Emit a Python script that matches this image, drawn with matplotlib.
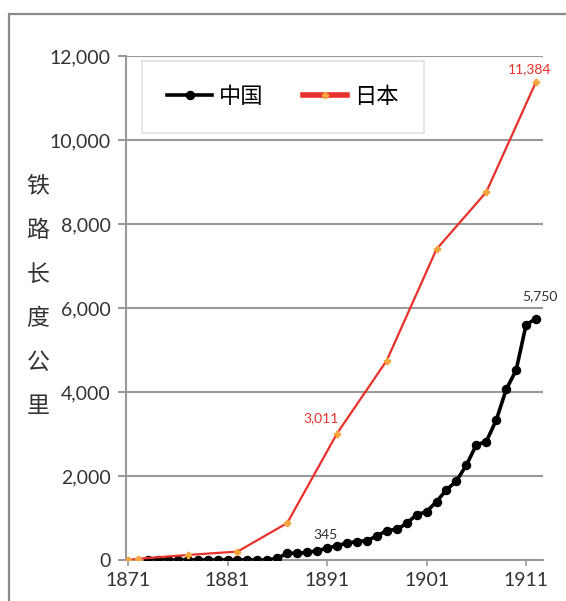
import matplotlib.pyplot as plt
from matplotlib.patches import Rectangle

plt.rcParams['font.family'] = ['Lato', 'Noto Sans CJK SC', 'DejaVu Sans']

# 中国铁路长度（公里），逐年
china_years = list(range(1873, 1913))
china_km = [0, 0, 0, 0, 0, 0, 0, 0, 0, 0, 0, 0, 0,
            40, 160, 160, 180, 220, 280, 345, 400, 440, 460, 570, 700,
            730, 870, 1080, 1150, 1390, 1670, 1880, 2260, 2740, 2820,
            3330, 4060, 4520, 5600, 5750]

# 日本铁路长度（公里），每五年
japan_years = [1871, 1872, 1877, 1882, 1887, 1892, 1897, 1902, 1907, 1912]
japan_km = [0, 29, 120, 200, 880, 3011, 4750, 7400, 8760, 11384]

x_ticks = [1871, 1881, 1891, 1901, 1911]
y_ticks = [0, 2000, 4000, 6000, 8000, 10000, 12000]
y_label = "铁路长度公里"

fig = plt.figure(figsize=(5.66, 6.01), dpi=100)
ax = fig.add_axes([126 / 566, 1 - 560 / 601, (543 - 126) / 566, (560 - 56) / 601])

ax.plot(china_years, china_km, color='black', lw=2.6, marker='o', ms=5.8,
        label='中国', zorder=3)
ax.plot(japan_years, japan_km, color='#e8312a', lw=1.6, marker='P', ms=4,
        mfc='#f5a53c', mec='#f5a53c', label='日本', zorder=4)

ax.set_xlim(1870.8, 1912.7)
ax.set_ylim(0, 12000)
ax.set_xticks(x_ticks)
ax.set_yticks(y_ticks)
ax.set_yticklabels([f'{v:,}' for v in y_ticks])
ax.yaxis.grid(True, color='#9a9a9a', lw=1.5)
ax.set_axisbelow(True)

for s in ['top', 'right']:
    ax.spines[s].set_visible(False)
for s in ['left', 'bottom']:
    ax.spines[s].set_color('#9a9a9a')
    ax.spines[s].set_linewidth(1.5)
ax.tick_params(axis='y', length=6, width=1.5, color='#9a9a9a',
               labelsize=14, labelcolor='#333333', pad=5)
ax.tick_params(axis='x', length=4, width=1.2, color='#9a9a9a',
               labelsize=14, labelcolor='#333333', pad=5)

# 数据标签
ax.annotate(f'{japan_km[-1]:,}', (japan_years[-1], japan_km[-1]),
            xytext=(-6, 13), textcoords='offset pixels',
            ha='center', va='center', fontsize=10, color='#e8312a')
ax.annotate(f'{japan_km[5]:,}', (japan_years[5], japan_km[5]),
            xytext=(-16, 15), textcoords='offset pixels',
            ha='center', va='center', fontsize=10, color='#e8312a')
ax.annotate(f'{china_km[-1]:,}', (china_years[-1], china_km[-1]),
            xytext=(4, 22), textcoords='offset pixels',
            ha='center', va='center', fontsize=10, color='#333333')
i345 = china_years.index(1892)
ax.annotate(f'{china_km[i345]:,}', (china_years[i345], china_km[i345]),
            xytext=(-11, 11), textcoords='offset pixels',
            ha='center', va='center', fontsize=10, color='#333333')

leg = ax.legend(loc='center', bbox_to_anchor=(283 / 566, 1 - 97 / 601),
                bbox_transform=fig.transFigure, ncol=2, fontsize=16,
                frameon=True, fancybox=False, handlelength=2.0,
                columnspacing=1.8, borderpad=1.15, handletextpad=0.3)
leg.get_frame().set_edgecolor('#d8d8d8')
leg.get_frame().set_linewidth(1.2)
leg.get_lines()[1].set_linewidth(4)

# 纵向轴标题
for k, ch in enumerate(y_label):
    fig.text(38 / 566, 1 - (186 + k * 44.2) / 601, ch, ha='center', va='center',
             fontsize=16.5, color='#333333', family='Noto Sans CJK SC')

fig.add_artist(Rectangle((9 / 566, -0.1), 1.2, (601 - 14) / 601 + 0.1,
                         transform=fig.transFigure, fill=False,
                         edgecolor='#8a8a8a', lw=1.6))

fig.savefig('out.png', dpi=100)
